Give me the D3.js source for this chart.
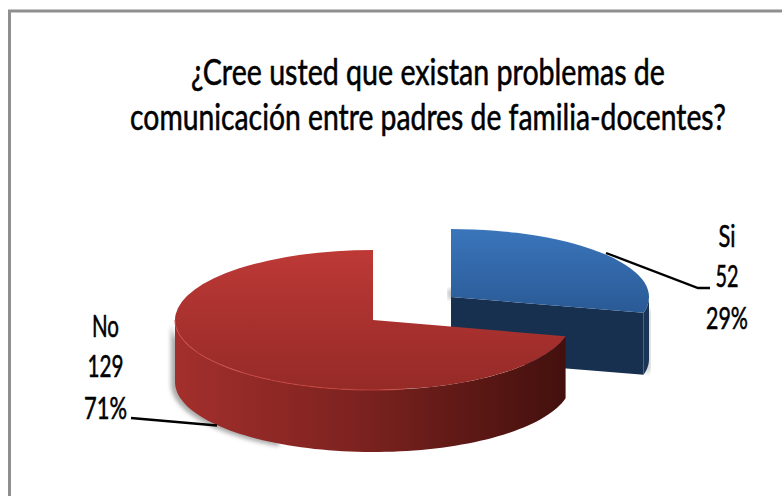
<!DOCTYPE html>
<html><head><meta charset="utf-8">
<script src="https://cdn.jsdelivr.net/npm/d3@7/dist/d3.min.js"></script>
<style>html,body{margin:0;padding:0;background:#fff;overflow:hidden}svg{display:block}</style>
</head><body><svg id="c" width="782" height="496"></svg>
<script>
const categories = ["Si", "No"];
const counts = [52, 129];
const percents = ["29%", "71%"];
const titleLines = ["¿Cree usted que existan problemas de", "comunicación entre padres de familia-docentes?"];

const svg = d3.select("#c");
const RX = 198, DEPTH = 62;
const font = "Lato, 'Open Sans', sans-serif";
const defs = svg.append("defs");
function grad(id, x2, y2, stops) {
  const g = defs.append("linearGradient").attr("id", id).attr("x1", 0).attr("y1", 0).attr("x2", x2).attr("y2", y2);
  stops.forEach(s => g.append("stop").attr("offset", s[0]).attr("stop-color", s[1]));
}
grad("redTop", 0, 1, [[0, "#bd3936"], [1, "#952a27"]]);
grad("redSide", 1, 0, [[0, "#a32f2c"], [0.45, "#7e2320"], [1, "#43100d"]]);
grad("blueTop", 0, 1, [[0, "#3a75bb"], [1, "#2a5a96"]]);
defs.append("filter").attr("id", "soft").attr("x", "-20%").attr("y", "-20%").attr("width", "140%").attr("height", "140%")
  .append("feGaussianBlur").attr("stdDeviation", 2);

// frame
svg.append("path").attr("d", "M9.5,496V11H782").attr("fill", "none").attr("stroke", "#8f8f8f").attr("stroke-width", 3);

// pie layout: first slice starts at 12 o'clock, clockwise
const slices = d3.pie().sort(null).value(d => d)(counts);
const arcGen = d3.arc().innerRadius(0).outerRadius(RX);
const line = d3.line();
const pt = (a, ry) => [RX * Math.sin(a), -ry * Math.cos(a)];
function wall(a0, a1, ry) {
  const n = 80;
  const top = d3.range(n + 1).map(i => pt(a0 + (a1 - a0) * i / n, ry));
  const bot = top.map(p => [p[0], p[1] + DEPTH]).reverse();
  return line(top.concat(bot)) + "Z";
}
function sliceGroup(cx, cy) { return svg.append("g").attr("transform", `translate(${cx},${cy})`); }
function topFace(g, s, ry, fill) {
  g.append("path").attr("transform", `scale(1,${ry / RX})`)
    .attr("d", arcGen({startAngle: s.startAngle, endAngle: s.endAngle})).attr("fill", fill);
}

// soft ground shadows
svg.append("path").attr("transform", "translate(454,297)").attr("d", wall(Math.PI * 0.55, slices[0].endAngle, 68))
  .attr("fill", "#666").attr("opacity", .55).attr("filter", "url(#soft)");
svg.append("path").attr("transform", "translate(369,322)").attr("d", wall(Math.PI * 1.15, Math.PI * 1.5, 70))
  .attr("fill", "#666").attr("opacity", .55).attr("filter", "url(#soft)");
svg.append("rect").attr("x", 448).attr("y", 289).attr("width", 5).attr("height", 10).attr("fill", "#bbb").attr("filter", "url(#soft)");

// blue slice
const blueRY = 68, blue = sliceGroup(451, 297);
const e0 = slices[0].endAngle, p0 = pt(e0, blueRY);
blue.append("path").attr("d", line([[0, 0], p0, [p0[0], p0[1] + DEPTH], [0, DEPTH]]) + "Z").attr("fill", "#17304f");
blue.append("path").attr("d", wall(Math.PI / 2, e0, blueRY)).attr("fill", "#1a3556");
topFace(blue, slices[0], blueRY, "url(#blueTop)");

// red slice
const redRY = 70, red = sliceGroup(373, 320);
red.append("path").attr("d", wall(slices[1].startAngle, Math.PI * 1.5, redRY)).attr("fill", "url(#redSide)");
topFace(red, slices[1], redRY, "url(#redTop)");
red.append("path").attr("fill", "none").attr("stroke", "#c9443f").attr("stroke-width", 1.2).attr("opacity", .7)
  .attr("d", line(d3.range(61).map(i => pt(Math.PI * 1.5 + (Math.PI * 0.95 - Math.PI * 1.5) * i / 60, redRY))));

// leaders
const leaders = [[[606, 253], [698, 288], [710, 288]], [[131, 418], [217, 425.5]]];
leaders.forEach(l => svg.append("path").attr("d", line(l)).attr("fill", "none").attr("stroke", "#000").attr("stroke-width", 2.4));

// text: each line is squeezed horizontally to its measured width, giving tall condensed letters
const T = svg.append("g").attr("font-family", font).attr("fill", "#000").attr("stroke", "#000").attr("stroke-width", 0.55).attr("text-anchor", "middle");
function txt(s, x, y, size, w) {
  const t = T.append("text").attr("font-size", size).text(s);
  const k = w / t.node().getComputedTextLength();
  t.attr("transform", `translate(${x},${y}) scale(${k},1)`).attr("stroke-width", 0.55);
}
txt(titleLines[0], 428, 85, 36, 474);
txt(titleLines[1], 428, 130, 36, 596);
const labelPos = [
  {x: 727, ys: [247, 287, 329], w: [17, 23, 42]},
  {x: 105.5, ys: [337, 377, 419], w: [27, 36, 43]}
];
categories.forEach((c, i) => {
  const p = labelPos[i];
  [c, String(counts[i]), percents[i]].forEach((s, j) => txt(s, p.x, p.ys[j], 30, p.w[j]));
});
</script></body></html>
